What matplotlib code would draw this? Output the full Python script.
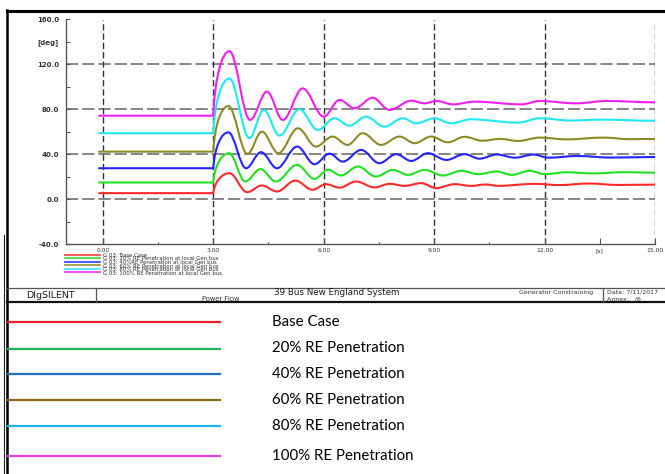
import matplotlib
matplotlib.use("Agg")
import matplotlib.pyplot as plt
from matplotlib.path import Path
from matplotlib.patches import PathPatch


# ── Rotor angle of G 03 (deg) at the turning points of each swing ──────────────
base_t = [-0.1, 3.0, 3.44, 3.92, 4.32, 4.73, 5.23, 5.70, 6.06, 6.43, 6.88, 7.38,
          7.79, 8.20, 8.65, 9.06, 9.55, 10.0, 10.4, 10.75, 11.73, 12.4, 13.2, 14.0, 15.0]
base_v = [5.3, 5.3, 23.1, 6.2, 12.1, 6.8, 16.5, 8.3, 13.3, 10.2, 15.7, 10.4,
          13.6, 11.8, 14.2, 9.8, 13.3, 11.8, 13.0, 11.8, 13.6, 12.5, 13.9, 12.6, 12.9]

re20_t = [-0.1, 3.0, 3.43, 3.87, 4.28, 4.70, 5.28, 5.75, 6.12, 6.47, 6.93, 7.42,
          7.88, 8.29, 8.74, 9.24, 9.74, 10.19, 10.7, 11.1, 11.6, 12.0, 12.6, 13.3, 14.2, 15.0]
re20_v = [14.8, 14.8, 40.9, 15.7, 26.7, 15.7, 30.5, 18.0, 26.2, 21.0, 29.0, 20.1,
          26.0, 21.6, 26.0, 21.0, 25.2, 22.2, 24.6, 21.6, 25.2, 22.2, 23.9, 22.9, 24.0, 23.5]

re40_t = [-0.1, 3.0, 3.41, 3.89, 4.30, 4.73, 5.28, 5.75, 6.16, 6.52, 7.02, 7.51,
          7.97, 8.38, 8.83, 9.33, 9.83, 10.23, 10.7, 11.2, 11.7, 12.1, 12.9, 13.8, 15.0]
re40_v = [27.5, 27.5, 59.5, 27.5, 41.8, 27.5, 46.8, 31.1, 40.5, 33.4, 43.8, 32.0,
          40.0, 34.0, 40.9, 34.9, 40.0, 36.0, 39.7, 36.9, 39.7, 36.9, 38.4, 37.0, 37.5]

re60_t = [-0.1, 3.0, 3.41, 3.93, 4.32, 4.77, 5.30, 5.79, 6.24, 6.65, 7.06, 7.56,
          8.06, 8.47, 8.92, 9.37, 9.83, 10.3, 10.8, 11.28, 11.87, 12.6, 13.6, 14.3, 15.0]
re60_v = [42.3, 42.3, 82.9, 40.3, 60.1, 40.9, 63.1, 46.8, 55.7, 48.3, 58.7, 48.3,
          55.7, 49.8, 55.7, 50.6, 55.5, 52.0, 53.6, 51.8, 54.8, 53.2, 54.8, 53.4, 53.6]

re80_t = [-0.1, 3.0, 3.44, 3.98, 4.37, 4.80, 5.34, 5.84, 6.29, 6.70, 7.15, 7.65,
          8.15, 8.51, 9.01, 9.46, 10.0, 11.28, 11.87, 12.7, 13.5, 15.0]
re80_v = [58.7, 58.7, 107.5, 54.2, 79.4, 56.6, 80.0, 61.6, 72.0, 65.4, 73.4, 64.5,
          72.0, 67.5, 72.0, 67.5, 71.1, 68.1, 72.0, 70.0, 70.8, 69.8]

re100_t = [-0.1, 3.0, 3.44, 4.00, 4.46, 4.89, 5.43, 6.00, 6.43, 6.84, 7.33, 7.79,
           8.38, 8.74, 9.06, 9.51, 10.1, 11.37, 11.87, 12.86, 13.68, 15.0]
re100_v = [74.3, 74.3, 131.8, 70.5, 95.7, 70.5, 98.6, 73.5, 88.3, 80.9, 90.3, 79.4,
           87.7, 85.3, 87.4, 84.4, 86.8, 84.4, 87.4, 85.3, 87.4, 86.2]

SERIES_T = [base_t, re20_t, re40_t, re60_t, re80_t, re100_t]
SERIES_V = [base_v, re20_v, re40_v, re60_v, re80_v, re100_v]

PF_COLORS = ["#ff2a2a", "#22e022", "#2424ff", "#8c8c26", "#1ee8f0", "#f21ef2"]
PF_LABELS = [
    "G 03: Base Case",
    "G 03: 20% RE Penetration at local Gen bus",
    "G 03: 40%RE Penetration at local Gen bus",
    "G 03: 60% RE Penetration at local Gen bus",
    "G 03: 80% RE Penetration at local Gen bus",
    "G 03: 100% RE Penetration at local Gen bus",
]

KEY_COLORS = ["#e8242a", "#22b455", "#1f6fc4", "#8c6a14", "#1eb2f0", "#e444e4"]
KEY_LABELS = [
    "Base Case",
    "20% RE Penetration",
    "40% RE Penetration",
    "60% RE Penetration",
    "80% RE Penetration",
    "100% RE Penetration",
]

Y_TICKS = [-40, -20, 0, 20, 40, 60, 80, 100, 120, 140, 160]
Y_TICK_LABELS = ["-40.0", "", "0.0", "", "40.0", "", "80.0", "", "120.0", "[deg]", "160.0"]
X_TICKS = [0, 3, 6, 9, 12, 13.5, 15]
X_TICK_LABELS = ["0.00", "3.00", "6.00", "9.00", "12.00", "[s]", "15.00"]
X_MINOR = [1.5, 4.5, 7.5, 10.5]

W, H = 665, 474


def swing_path(ts, vs, k=0.36):
    """Flat pre-event line, then smooth swings between the turning points."""
    verts = [(ts[0], vs[0]), (ts[1], vs[1])]
    codes = [Path.MOVETO, Path.LINETO]
    for i in range(1, len(ts) - 1):
        t0, v0, t1, v1 = ts[i], vs[i], ts[i + 1], vs[i + 1]
        dt = t1 - t0
        if i == 1:
            # steep kick right after the event
            c1 = (t0 + 0.10 * dt, v0 + 0.6 * (v1 - v0))
            c2 = (t1 - 0.45 * dt, v1)
        else:
            c1 = (t0 + k * dt, v0)
            c2 = (t1 - k * dt, v1)
        verts += [c1, c2, (t1, v1)]
        codes += [Path.CURVE4] * 3
    return Path(verts, codes)


fig = plt.figure(figsize=(W / 100, H / 100), dpi=100)

# ── Plot area ──────────────────────────────────────────────────────────────────
x0, x1, y_top, y_bot = 66, 655, 19.5, 244
ax = fig.add_axes([x0 / W, 1 - y_bot / H, (x1 - x0) / W, (y_bot - y_top) / H])
ax.set_xlim(-1, 15)
ax.set_ylim(-40, 160)
for s in ("top", "right"):
    ax.spines[s].set_visible(False)
for s in ("left", "bottom"):
    ax.spines[s].set_color("#555555")
    ax.spines[s].set_linewidth(1.0)

for y in [0, 40, 80, 120, 160]:
    ax.axhline(y, color="#666666", lw=1.1, ls=(0, (8, 2.6)), zorder=1)
for x in [0, 3, 6, 9, 12, 15]:
    ax.axvline(x, color="#333333", lw=1.0, ls=(0, (4.5, 2.2)), zorder=1)

ax.set_yticks(Y_TICKS)
ax.set_yticklabels(Y_TICK_LABELS)
ax.set_xticks(X_TICKS)
ax.set_xticklabels(X_TICK_LABELS)
ax.set_xticks(X_MINOR, minor=True)
ax.tick_params(axis="y", direction="in", length=3, width=0.8, color="#555555",
               labelsize=5, labelcolor="#333333", pad=5)
ax.tick_params(axis="x", which="major", direction="in", length=4, width=0.8,
               color="#555555", labelsize=4.3, labelcolor="#333333", pad=3)
ax.tick_params(axis="x", which="minor", direction="in", length=1.5, width=0.8,
               color="#555555")
for lbl in ax.get_yticklabels():
    lbl.set_fontweight("bold")

for ts, vs, col in zip(SERIES_T, SERIES_V, PF_COLORS):
    ax.add_patch(PathPatch(swing_path(ts, vs), fill=False, edgecolor=col,
                           lw=1.5, capstyle="round", joinstyle="round", zorder=3))

# ── Page furniture drawn in pixel space ────────────────────────────────────────
pg = fig.add_axes([0, 0, 1, 1], zorder=5)
pg.set_xlim(0, W)
pg.set_ylim(H, 0)
pg.set_axis_off()
pg.patch.set_visible(False)

# outer frame
pg.plot([7, W], [10.5, 10.5], color="black", lw=2.2)
pg.plot([7, 7], [10, H], color="black", lw=1.8)
pg.plot([3.5, 3.5], [235, H], color="#222222", lw=0.8)

# small plot legend: keys plus one block of tightly stacked labels
leg_y0, leg_dy = 254.7, 3.45
for i, col in enumerate(PF_COLORS):
    y = leg_y0 + leg_dy * i
    pg.plot([65, 100], [y, y], color=col, lw=1.3, alpha=0.85)
pg.text(103, leg_y0 - 2.0, "\n".join(PF_LABELS), fontsize=3.9, color="#333333",
        va="top", ha="left", linespacing=0.66)

# title block
pg.plot([7, W], [288, 288], color="#555555", lw=0.9)
pg.plot([7, W], [302.3, 302.3], color="#111111", lw=1.6)
pg.plot([96, 96], [288, 302], color="#555555", lw=0.9)
pg.plot([603, 603], [288, 302], color="#555555", lw=0.9)
pg.text(50, 295.3, "DIgSILENT", fontsize=6.8, color="#1a1a1a", ha="center", va="center")
pg.text(337, 292.3, "39 Bus New England System", fontsize=6.3, color="#1a1a1a",
        ha="center", va="center")
pg.text(221, 298.8, "Power Flow", fontsize=4.8, color="#333333", ha="center", va="center")
pg.text(556, 292.3, "Generator Constraining", fontsize=4.5, color="#333333",
        ha="center", va="center")
pg.text(607, 292.3, "Date: 7/11/2017", fontsize=4.5, color="#333333", ha="left", va="center")
pg.text(607, 299.3, "Annex:   /6", fontsize=4.5, color="#333333", ha="left", va="center")

# large key below the plot page
key_y = [321.5, 348.5, 373.5, 399.5, 426, 455.5]
for y, lab, col in zip(key_y, KEY_LABELS, KEY_COLORS):
    pg.plot([8, 220], [y, y], color=col, lw=1.6)
    pg.text(272, y, lab, fontsize=10.8, color="black", ha="left", va="center",
            family=["Lato", "DejaVu Sans"])

fig.savefig("out.png", dpi=100)
